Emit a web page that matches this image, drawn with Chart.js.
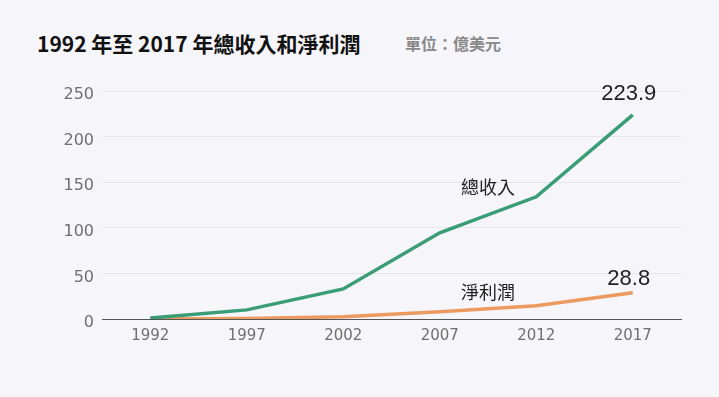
<!DOCTYPE html>
<html>
<head>
<meta charset="utf-8">
<script src="https://cdn.jsdelivr.net/npm/chart.js@4/dist/chart.umd.min.js"></script>
<style>
  html, body { margin: 0; padding: 0; background: #f6f5fa; }
  #wrap { position: relative; width: 719px; height: 397px; overflow: hidden; }
  #title { position: absolute; left: 37px; top: 29px; font: bold 21px "Noto Sans CJK TC", sans-serif; color: #111; line-height: 28px; white-space: nowrap; }
  #unit { position: absolute; left: 405px; top: 32px; font: bold 16px "Noto Sans CJK TC", sans-serif; color: #8a8a8a; line-height: 22px; white-space: nowrap; }
  #chart { position: absolute; left: 0; top: 0; }
</style>
</head>
<body>
<div id="wrap">
  <div id="title">1992 年至 2017 年總收入和淨利潤</div>
  <div id="unit">單位：億美元</div>
  <canvas id="chart" width="719" height="397"></canvas>
</div>
<script>
// Data (億美元)
var years = ['1992', '1997', '2002', '2007', '2012', '2017'];
var revenue = [1, 10, 33, 94.5, 134, 223.9];
var netProfit = [0, 0.5, 2.5, 8, 14.5, 28.8];
var seriesNames = ['總收入', '淨利潤'];
var yTicks = [0, 50, 100, 150, 200, 250];

// Draw the end values and series names on the chart
var annotatePlugin = {
    id: 'annotate',
    afterDatasetsDraw: function(chart) {
        var ctx = chart.ctx;
        var x = chart.scales.x;
        var y = chart.scales.y;
        var last = years.length - 1;
        ctx.save();
        ctx.textAlign = 'center';
        ctx.textBaseline = 'middle';
        ctx.fillStyle = '#222';

        // end values
        ctx.font = '22px "Liberation Sans", sans-serif';
        ctx.fillText(revenue[last].toFixed(1), x.getPixelForValue(last) - 4, y.getPixelForValue(revenue[last]) - 21);
        ctx.fillText(netProfit[last].toFixed(1), x.getPixelForValue(last) - 4, y.getPixelForValue(netProfit[last]) - 14);

        // series names, between 2007 and 2012
        ctx.font = '18px "Noto Sans CJK TC", sans-serif';
        ctx.fillText(seriesNames[0], x.getPixelForValue(3.5), y.getPixelForValue(145));
        ctx.fillText(seriesNames[1], x.getPixelForValue(3.5), y.getPixelForValue(29));
        ctx.restore();
    }
};

var ctx = document.getElementById('chart').getContext('2d');
new Chart(ctx, {
    type: 'line',
    data: {
        labels: years,
        datasets: [{
            label: seriesNames[0],
            data: revenue,
            borderColor: '#3a9d76',
            borderWidth: 3.5,
            pointRadius: 0,
            tension: 0
        }, {
            label: seriesNames[1],
            data: netProfit,
            borderColor: '#eb9a60',
            borderWidth: 3.5,
            pointRadius: 0,
            tension: 0
        }]
    },
    options: {
        responsive: false,
        animation: false,
        layout: {
            padding: { left: 0, right: 38, top: 91, bottom: 38 }
        },
        scales: {
            x: {
                offset: true,
                grid: { display: false, drawTicks: false },
                border: { display: true, color: '#555', width: 1 },
                ticks: {
                    color: '#6f6f6f',
                    padding: 8,
                    font: { family: "'DejaVu Sans'", size: 15 },
                    maxRotation: 0
                },
                afterFit: function(scale) { scale.height = 40; }
            },
            y: {
                min: 0,
                max: 250,
                afterBuildTicks: function(scale) {
                    scale.ticks = yTicks.map(function(v) { return { value: v }; });
                },
                grid: { color: '#e6e5ec', lineWidth: 1, drawTicks: false },
                border: { display: false },
                ticks: {
                    color: '#6f6f6f',
                    padding: 8,
                    labelOffset: 4,
                    font: { family: "'DejaVu Sans'", size: 16 }
                },
                afterFit: function(scale) { scale.width = 102; }
            }
        },
        plugins: {
            legend: { display: false },
            tooltip: { enabled: false }
        }
    },
    plugins: [annotatePlugin]
});
</script>
</body>
</html>
